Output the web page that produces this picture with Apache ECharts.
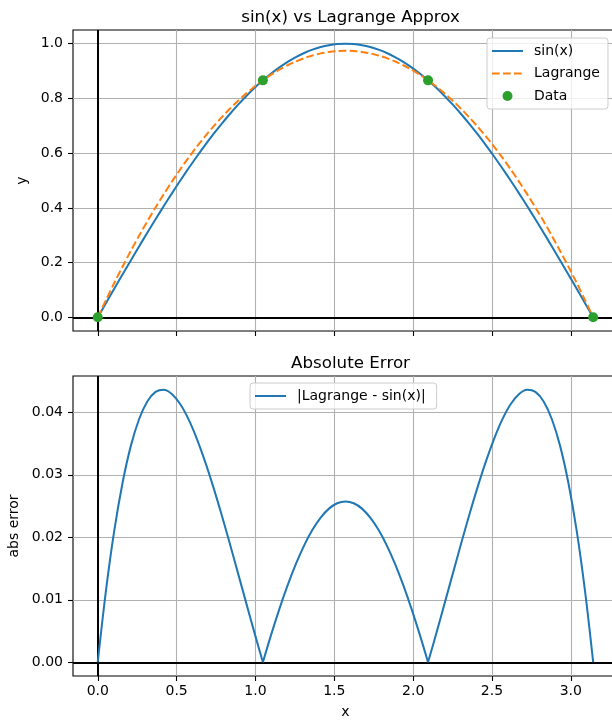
<!DOCTYPE html>
<html>
<head>
<meta charset="utf-8">
<script src="https://cdn.jsdelivr.net/npm/echarts@6/dist/echarts.min.js"></script>
<style>
html,body{margin:0;padding:0;background:#fff}
#chart{width:612px;height:721px}
</style>
</head>
<body>
<div id="chart"></div>
<script>
// x samples from 0 to pi
let xs = [0, 0.0524, 0.1047, 0.1571, 0.2094, 0.2618, 0.3142, 0.3665, 0.4189, 0.4712,
    0.5236, 0.5760, 0.6283, 0.6807, 0.7330, 0.7854, 0.8378, 0.8901, 0.9425, 0.9948,
    1.0472, 1.0996, 1.1519, 1.2043, 1.2566, 1.3090, 1.3614, 1.4137, 1.4661, 1.5184,
    1.5708, 1.6232, 1.6755, 1.7279, 1.7802, 1.8326, 1.8850, 1.9373, 1.9897, 2.0420,
    2.0944, 2.1468, 2.1991, 2.2515, 2.3038, 2.3562, 2.4086, 2.4609, 2.5133, 2.5656,
    2.6180, 2.6704, 2.7227, 2.7751, 2.8274, 2.8798, 2.9322, 2.9845, 3.0369, 3.0892, 3.1416];

let sinVals = [0, 0.0523, 0.1045, 0.1564, 0.2079, 0.2588, 0.3090, 0.3584, 0.4067, 0.4540,
    0.5, 0.5446, 0.5878, 0.6293, 0.6691, 0.7071, 0.7431, 0.7771, 0.8090, 0.8387,
    0.8660, 0.8910, 0.9135, 0.9336, 0.9511, 0.9659, 0.9781, 0.9877, 0.9945, 0.9986,
    1.0, 0.9986, 0.9945, 0.9877, 0.9781, 0.9659, 0.9511, 0.9336, 0.9135, 0.8910,
    0.8660, 0.8387, 0.8090, 0.7771, 0.7431, 0.7071, 0.6691, 0.6293, 0.5878, 0.5446,
    0.5, 0.4540, 0.4067, 0.3584, 0.3090, 0.2588, 0.2079, 0.1564, 0.1045, 0.0523, 0];

let lagVals = [0, 0.0639, 0.1256, 0.1851, 0.2425, 0.2977, 0.3507, 0.4016, 0.4503, 0.4969,
    0.5413, 0.5835, 0.6235, 0.6614, 0.6971, 0.7307, 0.7621, 0.7913, 0.8184, 0.8433,
    0.8660, 0.8866, 0.9050, 0.9212, 0.9353, 0.9472, 0.9570, 0.9645, 0.9699, 0.9732,
    0.9743, 0.9732, 0.9699, 0.9645, 0.9570, 0.9472, 0.9353, 0.9212, 0.9050, 0.8866,
    0.8660, 0.8433, 0.8184, 0.7913, 0.7621, 0.7307, 0.6971, 0.6614, 0.6235, 0.5835,
    0.5413, 0.4969, 0.4503, 0.4016, 0.3507, 0.2977, 0.2425, 0.1851, 0.1256, 0.0639, 0];

let errVals = [0, 0.01153, 0.02105, 0.02868, 0.03458, 0.03888, 0.04172, 0.04325, 0.04360, 0.04289,
    0.04127, 0.03885, 0.03575, 0.03211, 0.02802, 0.02360, 0.01896, 0.01418, 0.00938, 0.00462,
    0, 0.00442, 0.00855, 0.01235, 0.01575, 0.01871, 0.02119, 0.02315, 0.02458, 0.02544,
    0.02572, 0.02544, 0.02458, 0.02315, 0.02119, 0.01871, 0.01575, 0.01235, 0.00855, 0.00442,
    0, 0.00462, 0.00938, 0.01418, 0.01896, 0.02360, 0.02802, 0.03211, 0.03575, 0.03885,
    0.04127, 0.04289, 0.04360, 0.04325, 0.04172, 0.03888, 0.03458, 0.02868, 0.02105, 0.01153, 0];

// interpolation nodes
let nodeX = [0, 1.0472, 2.0944, 3.1416];
let nodeY = [0, 0.8660, 0.8660, 0];

let xTicks = [0, 0.5, 1.0, 1.5, 2.0, 2.5, 3.0];
let yTicksTop = [0, 0.2, 0.4, 0.6, 0.8, 1.0];
let yTicksBottom = [0, 0.01, 0.02, 0.03, 0.04];

let font = 'DejaVu Sans';
let blue = '#1f77b4', orange = '#ff7f0e', green = '#2ca02c';
let errName = '|Lagrange - sin(x)|';

// legend handles (31x14 box)
let iconSolid = 'path://M0,0M31,14M0,6h31v2h-31z';
let iconDashed = 'path://M0,0M31,14M0,6h7.7v2h-7.7zM11,6h7.7v2h-7.7zM22,6h7.7v2h-7.7z';
let iconDot = 'path://M0,0M31,14M20.5,7A5,5,0,1,1,10.5,7A5,5,0,1,1,20.5,7Z';

function pairs(a, b, from, to) {
    let out = [];
    from = from || 0;
    to = to == null ? a.length - 1 : to;
    for (let i = from; i <= to; i++) out.push([a[i], b[i]]);
    return out;
}

// grid lines + black zero lines as one markLine (drawn under the curves)
function guideLines(xt, yt) {
    let grey = {color: '#b0b0b0', width: 1.1, type: 'solid'};
    let black = {color: '#000', width: 2, type: 'solid'};
    let d = [];
    xt.forEach(function (v) { d.push({xAxis: v, lineStyle: grey}); });
    yt.forEach(function (v) { d.push({yAxis: v, lineStyle: grey}); });
    d.push({yAxis: 0, lineStyle: black});
    d.push({xAxis: 0, lineStyle: black});
    return {
        silent: true,
        z: 1,
        symbol: ['none', 'none'],
        label: {show: false},
        emphasis: {disabled: true},
        data: d
    };
}

function xAxisOpt(idx, withLabels) {
    return {
        type: 'value',
        gridIndex: idx,
        min: -0.157,
        max: 3.299,
        axisLine: {show: false, onZero: false},
        splitLine: {show: false},
        axisTick: {show: true, customValues: xTicks, length: 5, lineStyle: {color: '#000', width: 1.1}},
        axisLabel: {
            show: withLabels, customValues: xTicks, margin: 8,
            fontFamily: font, fontSize: 14, color: '#000',
            formatter: function (v) { return v.toFixed(1); }
        },
        name: withLabels ? 'x' : '',
        nameLocation: 'middle',
        nameGap: 29,
        nameTextStyle: {fontFamily: font, fontSize: 14, color: '#000'}
    };
}

function yAxisOpt(idx, min, max, ticks, digits, name, gap) {
    return {
        type: 'value',
        gridIndex: idx,
        min: min,
        max: max,
        axisLine: {show: false, onZero: false},
        splitLine: {show: false},
        axisTick: {show: true, customValues: ticks, length: 5, lineStyle: {color: '#000', width: 1.1}},
        axisLabel: {
            customValues: ticks, margin: 10,
            fontFamily: font, fontSize: 14, color: '#000',
            formatter: function (v) { return v.toFixed(digits); }
        },
        name: name,
        nameLocation: 'middle',
        nameGap: gap,
        nameTextStyle: {fontFamily: font, fontSize: 14, color: '#000'}
    };
}

let legendBase = {
    orient: 'vertical',
    itemWidth: 31,
    itemHeight: 14,
    itemGap: 8.5,
    padding: [6, 8, 6, 5],
    backgroundColor: 'rgba(255,255,255,0.8)',
    borderColor: '#cccccc',
    borderWidth: 1,
    borderRadius: 3,
    textStyle: {fontFamily: font, fontSize: 14, color: '#000', padding: [0, 0, 0, 6]},
    selectedMode: false
};

// one arch of the error curve between two nodes (sharp corners at the nodes)
function errArch(from, to, withGuides) {
    let s = {
        name: errName, type: 'line', xAxisIndex: 1, yAxisIndex: 1, z: 3,
        data: pairs(xs, errVals, from, to), symbol: 'none', smooth: 0.35,
        lineStyle: {color: blue, width: 2}, itemStyle: {color: blue}
    };
    if (withGuides) s.markLine = guideLines(xTicks, yTicksBottom);
    return s;
}

let chart = echarts.init(document.getElementById('chart'));
chart.setOption({
    animation: false,
    backgroundColor: '#fff',
    title: [
        {text: 'sin(x) vs Lagrange Approx', left: 345.5, textAlign: 'center', top: 4,
            textStyle: {fontFamily: font, fontSize: 16.7, fontWeight: 'normal', color: '#000'}},
        {text: 'Absolute Error', left: 345.5, textAlign: 'center', top: 350,
            textStyle: {fontFamily: font, fontSize: 16.7, fontWeight: 'normal', color: '#000'}}
    ],
    legend: [
        Object.assign({}, legendBase, {
            left: 487, top: 38,
            data: [
                {name: 'sin(x)', icon: iconSolid},
                {name: 'Lagrange', icon: iconDashed},
                {name: 'Data', icon: iconDot}
            ]
        }),
        Object.assign({}, legendBase, {
            left: 250, top: 383,
            padding: [6, 11, 6, 5],
            data: [{name: errName, icon: iconSolid}]
        })
    ],
    grid: [
        {left: 73, right: -6, top: 30, height: 301, show: true, borderColor: '#000', borderWidth: 1.1,
            containLabel: false, outerBoundsMode: 'none'},
        {left: 73, right: -6, top: 376, height: 300, show: true, borderColor: '#000', borderWidth: 1.1,
            containLabel: false, outerBoundsMode: 'none'}
    ],
    xAxis: [xAxisOpt(0, false), xAxisOpt(1, true)],
    yAxis: [
        yAxisOpt(0, -0.05, 1.05, yTicksTop, 1, 'y', 44),
        yAxisOpt(1, -0.0022, 0.0458, yTicksBottom, 2, 'abs error', 48)
    ],
    series: [
        {
            name: 'sin(x)', type: 'line', xAxisIndex: 0, yAxisIndex: 0, z: 3,
            data: pairs(xs, sinVals), symbol: 'none', smooth: 0.3,
            lineStyle: {color: blue, width: 2}, itemStyle: {color: blue},
            markLine: guideLines(xTicks, yTicksTop)
        },
        {
            name: 'Lagrange', type: 'line', xAxisIndex: 0, yAxisIndex: 0, z: 3,
            data: pairs(xs, lagVals), symbol: 'none', smooth: 0.3,
            lineStyle: {color: orange, width: 2, type: [7.7, 3.3]}, itemStyle: {color: orange}
        },
        {
            name: 'Data', type: 'scatter', xAxisIndex: 0, yAxisIndex: 0, z: 4,
            data: pairs(nodeX, nodeY), symbolSize: 10,
            itemStyle: {color: green, opacity: 1}
        },
        errArch(0, 20, true),
        errArch(20, 40, false),
        errArch(40, 60, false)
    ]
});
</script>
</body>
</html>
